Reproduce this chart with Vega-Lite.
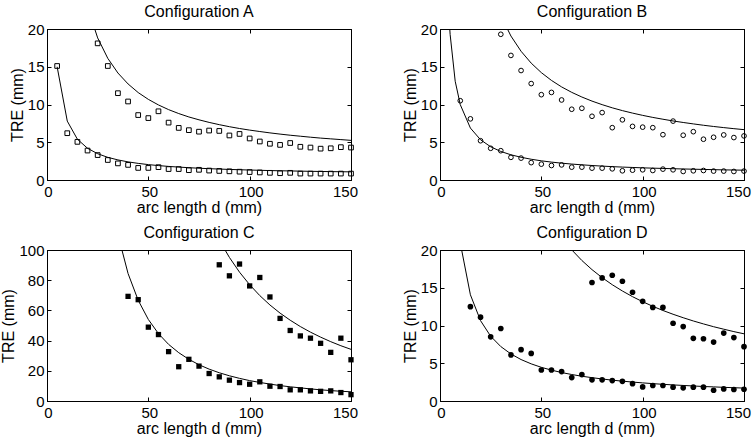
{
  "$schema": "https://vega.github.io/schema/vega-lite/v6.json",
  "background": "white",
  "padding": {"left": 0, "top": 3, "right": 0, "bottom": 0},
  "columns": 2,
  "bounds": "flush",
  "spacing": {"row": 70, "column": 89},
  "datasets": {
    "pts": [
      {"panel":"A","series":"lo","d":5,"tre":15.1},{"panel":"A","series":"lo","d":10,"tre":6.2},{"panel":"A","series":"lo","d":15,"tre":5.05},{"panel":"A","series":"lo","d":20,"tre":3.9},{"panel":"A","series":"lo","d":25,"tre":3.3},{"panel":"A","series":"lo","d":30,"tre":2.65},{"panel":"A","series":"lo","d":35,"tre":2.2},{"panel":"A","series":"lo","d":40,"tre":2.0},{"panel":"A","series":"lo","d":45,"tre":1.6},{"panel":"A","series":"lo","d":50,"tre":1.6},{"panel":"A","series":"lo","d":55,"tre":1.7},{"panel":"A","series":"lo","d":60,"tre":1.45},{"panel":"A","series":"lo","d":65,"tre":1.45},{"panel":"A","series":"lo","d":70,"tre":1.3},{"panel":"A","series":"lo","d":75,"tre":1.35},{"panel":"A","series":"lo","d":80,"tre":1.25},{"panel":"A","series":"lo","d":85,"tre":1.2},{"panel":"A","series":"lo","d":90,"tre":1.15},{"panel":"A","series":"lo","d":95,"tre":1.1},{"panel":"A","series":"lo","d":100,"tre":1.05},{"panel":"A","series":"lo","d":105,"tre":1.0},{"panel":"A","series":"lo","d":110,"tre":0.95},{"panel":"A","series":"lo","d":115,"tre":0.9},{"panel":"A","series":"lo","d":120,"tre":0.95},{"panel":"A","series":"lo","d":125,"tre":0.85},{"panel":"A","series":"lo","d":130,"tre":0.85},{"panel":"A","series":"lo","d":135,"tre":0.85},{"panel":"A","series":"lo","d":140,"tre":0.85},{"panel":"A","series":"lo","d":145,"tre":0.85},{"panel":"A","series":"lo","d":150,"tre":0.85},
      {"panel":"A","series":"hi","d":25,"tre":18.1},{"panel":"A","series":"hi","d":30,"tre":15.1},{"panel":"A","series":"hi","d":35,"tre":11.5},{"panel":"A","series":"hi","d":40,"tre":10.4},{"panel":"A","series":"hi","d":45,"tre":8.6},{"panel":"A","series":"hi","d":50,"tre":8.2},{"panel":"A","series":"hi","d":55,"tre":9.1},{"panel":"A","series":"hi","d":60,"tre":7.6},{"panel":"A","series":"hi","d":65,"tre":6.9},{"panel":"A","series":"hi","d":70,"tre":6.6},{"panel":"A","series":"hi","d":75,"tre":6.4},{"panel":"A","series":"hi","d":80,"tre":6.55},{"panel":"A","series":"hi","d":85,"tre":6.5},{"panel":"A","series":"hi","d":90,"tre":5.9},{"panel":"A","series":"hi","d":95,"tre":6.1},{"panel":"A","series":"hi","d":100,"tre":5.5},{"panel":"A","series":"hi","d":105,"tre":5.1},{"panel":"A","series":"hi","d":110,"tre":4.8},{"panel":"A","series":"hi","d":115,"tre":4.65},{"panel":"A","series":"hi","d":120,"tre":4.9},{"panel":"A","series":"hi","d":125,"tre":4.4},{"panel":"A","series":"hi","d":130,"tre":4.3},{"panel":"A","series":"hi","d":135,"tre":4.15},{"panel":"A","series":"hi","d":140,"tre":4.2},{"panel":"A","series":"hi","d":145,"tre":4.35},{"panel":"A","series":"hi","d":150,"tre":4.3},
      {"panel":"B","series":"lo","d":10,"tre":10.5},{"panel":"B","series":"lo","d":15,"tre":8.1},{"panel":"B","series":"lo","d":20,"tre":5.2},{"panel":"B","series":"lo","d":25,"tre":4.2},{"panel":"B","series":"lo","d":30,"tre":3.88},{"panel":"B","series":"lo","d":35,"tre":3.0},{"panel":"B","series":"lo","d":40,"tre":2.9},{"panel":"B","series":"lo","d":45,"tre":2.3},{"panel":"B","series":"lo","d":50,"tre":2.1},{"panel":"B","series":"lo","d":55,"tre":1.92},{"panel":"B","series":"lo","d":60,"tre":2.0},{"panel":"B","series":"lo","d":65,"tre":1.7},{"panel":"B","series":"lo","d":70,"tre":1.7},{"panel":"B","series":"lo","d":75,"tre":1.57},{"panel":"B","series":"lo","d":80,"tre":1.57},{"panel":"B","series":"lo","d":85,"tre":1.48},{"panel":"B","series":"lo","d":90,"tre":1.22},{"panel":"B","series":"lo","d":95,"tre":1.3},{"panel":"B","series":"lo","d":100,"tre":1.35},{"panel":"B","series":"lo","d":105,"tre":1.26},{"panel":"B","series":"lo","d":110,"tre":1.44},{"panel":"B","series":"lo","d":115,"tre":1.35},{"panel":"B","series":"lo","d":120,"tre":1.13},{"panel":"B","series":"lo","d":125,"tre":1.22},{"panel":"B","series":"lo","d":130,"tre":1.26},{"panel":"B","series":"lo","d":135,"tre":1.18},{"panel":"B","series":"lo","d":140,"tre":1.18},{"panel":"B","series":"lo","d":145,"tre":1.13},{"panel":"B","series":"lo","d":150,"tre":1.18},
      {"panel":"B","series":"hi","d":30,"tre":19.3},{"panel":"B","series":"hi","d":35,"tre":16.5},{"panel":"B","series":"hi","d":40,"tre":14.5},{"panel":"B","series":"hi","d":45,"tre":12.77},{"panel":"B","series":"hi","d":50,"tre":11.3},{"panel":"B","series":"hi","d":55,"tre":11.6},{"panel":"B","series":"hi","d":60,"tre":10.6},{"panel":"B","series":"hi","d":65,"tre":9.37},{"panel":"B","series":"hi","d":70,"tre":9.5},{"panel":"B","series":"hi","d":75,"tre":8.44},{"panel":"B","series":"hi","d":80,"tre":8.93},{"panel":"B","series":"hi","d":85,"tre":6.93},{"panel":"B","series":"hi","d":90,"tre":7.97},{"panel":"B","series":"hi","d":95,"tre":7.1},{"panel":"B","series":"hi","d":100,"tre":7.0},{"panel":"B","series":"hi","d":105,"tre":6.93},{"panel":"B","series":"hi","d":110,"tre":6.0},{"panel":"B","series":"hi","d":115,"tre":7.8},{"panel":"B","series":"hi","d":120,"tre":5.93},{"panel":"B","series":"hi","d":125,"tre":6.4},{"panel":"B","series":"hi","d":130,"tre":5.4},{"panel":"B","series":"hi","d":135,"tre":5.66},{"panel":"B","series":"hi","d":140,"tre":5.97},{"panel":"B","series":"hi","d":145,"tre":5.62},{"panel":"B","series":"hi","d":150,"tre":5.84},
      {"panel":"C","series":"lo","d":40,"tre":69.3},{"panel":"C","series":"lo","d":45,"tre":67.1},{"panel":"C","series":"lo","d":50,"tre":48.9},{"panel":"C","series":"lo","d":55,"tre":44},{"panel":"C","series":"lo","d":60,"tre":32.7},{"panel":"C","series":"lo","d":65,"tre":22.7},{"panel":"C","series":"lo","d":70,"tre":27.6},{"panel":"C","series":"lo","d":75,"tre":23.1},{"panel":"C","series":"lo","d":80,"tre":18.2},{"panel":"C","series":"lo","d":85,"tre":16},{"panel":"C","series":"lo","d":90,"tre":13.8},{"panel":"C","series":"lo","d":95,"tre":12.2},{"panel":"C","series":"lo","d":100,"tre":11.1},{"panel":"C","series":"lo","d":105,"tre":12.7},{"panel":"C","series":"lo","d":110,"tre":9.8},{"panel":"C","series":"lo","d":115,"tre":9.6},{"panel":"C","series":"lo","d":120,"tre":7.4},{"panel":"C","series":"lo","d":125,"tre":7.4},{"panel":"C","series":"lo","d":130,"tre":6.7},{"panel":"C","series":"lo","d":135,"tre":6.4},{"panel":"C","series":"lo","d":140,"tre":6.7},{"panel":"C","series":"lo","d":145,"tre":5.6},{"panel":"C","series":"lo","d":150,"tre":4.2},
      {"panel":"C","series":"hi","d":85,"tre":90.2},{"panel":"C","series":"hi","d":90,"tre":82.9},{"panel":"C","series":"hi","d":95,"tre":90.7},{"panel":"C","series":"hi","d":100,"tre":76.2},{"panel":"C","series":"hi","d":105,"tre":81.8},{"panel":"C","series":"hi","d":110,"tre":68.9},{"panel":"C","series":"hi","d":115,"tre":54.7},{"panel":"C","series":"hi","d":120,"tre":46.7},{"panel":"C","series":"hi","d":125,"tre":43.1},{"panel":"C","series":"hi","d":130,"tre":41.6},{"panel":"C","series":"hi","d":135,"tre":38.2},{"panel":"C","series":"hi","d":140,"tre":32.2},{"panel":"C","series":"hi","d":145,"tre":41.6},{"panel":"C","series":"hi","d":150,"tre":27.3},
      {"panel":"D","series":"lo","d":15,"tre":12.5},{"panel":"D","series":"lo","d":20,"tre":11.1},{"panel":"D","series":"lo","d":25,"tre":8.5},{"panel":"D","series":"lo","d":30,"tre":9.6},{"panel":"D","series":"lo","d":35,"tre":6.1},{"panel":"D","series":"lo","d":40,"tre":6.8},{"panel":"D","series":"lo","d":45,"tre":6.3},{"panel":"D","series":"lo","d":50,"tre":4.1},{"panel":"D","series":"lo","d":55,"tre":4.1},{"panel":"D","series":"lo","d":60,"tre":3.9},{"panel":"D","series":"lo","d":65,"tre":3.1},{"panel":"D","series":"lo","d":70,"tre":3.5},{"panel":"D","series":"lo","d":75,"tre":2.8},{"panel":"D","series":"lo","d":80,"tre":2.8},{"panel":"D","series":"lo","d":85,"tre":2.7},{"panel":"D","series":"lo","d":90,"tre":2.6},{"panel":"D","series":"lo","d":95,"tre":2.3},{"panel":"D","series":"lo","d":100,"tre":1.87},{"panel":"D","series":"lo","d":105,"tre":2.05},{"panel":"D","series":"lo","d":110,"tre":2.05},{"panel":"D","series":"lo","d":115,"tre":1.83},{"panel":"D","series":"lo","d":120,"tre":1.74},{"panel":"D","series":"lo","d":125,"tre":1.83},{"panel":"D","series":"lo","d":130,"tre":1.83},{"panel":"D","series":"lo","d":135,"tre":1.43},{"panel":"D","series":"lo","d":140,"tre":1.6},{"panel":"D","series":"lo","d":145,"tre":1.52},{"panel":"D","series":"lo","d":150,"tre":1.56},
      {"panel":"D","series":"hi","d":75,"tre":15.7},{"panel":"D","series":"hi","d":80,"tre":16.3},{"panel":"D","series":"hi","d":85,"tre":16.65},{"panel":"D","series":"hi","d":90,"tre":15.86},{"panel":"D","series":"hi","d":95,"tre":14.4},{"panel":"D","series":"hi","d":100,"tre":13.2},{"panel":"D","series":"hi","d":105,"tre":12.4},{"panel":"D","series":"hi","d":110,"tre":12.4},{"panel":"D","series":"hi","d":115,"tre":10.3},{"panel":"D","series":"hi","d":120,"tre":9.86},{"panel":"D","series":"hi","d":125,"tre":8.3},{"panel":"D","series":"hi","d":130,"tre":8.25},{"panel":"D","series":"hi","d":135,"tre":7.8},{"panel":"D","series":"hi","d":140,"tre":9.0},{"panel":"D","series":"hi","d":145,"tre":8.4},{"panel":"D","series":"hi","d":150,"tre":7.2}
    ],
    "fit": [
      {"panel":"A","series":"lo","d":5,"tre":15.0},{"panel":"A","series":"lo","d":10,"tre":7.8},{"panel":"A","series":"lo","d":15,"tre":5.4},{"panel":"A","series":"lo","d":20,"tre":4.2},{"panel":"A","series":"lo","d":25,"tre":3.48},{"panel":"A","series":"lo","d":30,"tre":3.0},{"panel":"A","series":"lo","d":35,"tre":2.66},{"panel":"A","series":"lo","d":40,"tre":2.4},{"panel":"A","series":"lo","d":45,"tre":2.2},{"panel":"A","series":"lo","d":50,"tre":2.04},{"panel":"A","series":"lo","d":55,"tre":1.91},{"panel":"A","series":"lo","d":60,"tre":1.8},{"panel":"A","series":"lo","d":65,"tre":1.71},{"panel":"A","series":"lo","d":70,"tre":1.63},{"panel":"A","series":"lo","d":75,"tre":1.56},{"panel":"A","series":"lo","d":80,"tre":1.5},{"panel":"A","series":"lo","d":85,"tre":1.45},{"panel":"A","series":"lo","d":90,"tre":1.4},{"panel":"A","series":"lo","d":95,"tre":1.36},{"panel":"A","series":"lo","d":100,"tre":1.32},{"panel":"A","series":"lo","d":110,"tre":1.25},{"panel":"A","series":"lo","d":120,"tre":1.2},{"panel":"A","series":"lo","d":130,"tre":1.15},{"panel":"A","series":"lo","d":140,"tre":1.11},{"panel":"A","series":"lo","d":150,"tre":1.08},
      {"panel":"A","series":"hi","d":20,"tre":22.9},{"panel":"A","series":"hi","d":25,"tre":18.82},{"panel":"A","series":"hi","d":30,"tre":16.11},{"panel":"A","series":"hi","d":35,"tre":14.17},{"panel":"A","series":"hi","d":40,"tre":12.72},{"panel":"A","series":"hi","d":45,"tre":11.58},{"panel":"A","series":"hi","d":50,"tre":10.68},{"panel":"A","series":"hi","d":55,"tre":9.94},{"panel":"A","series":"hi","d":60,"tre":9.32},{"panel":"A","series":"hi","d":65,"tre":8.8},{"panel":"A","series":"hi","d":70,"tre":8.35},{"panel":"A","series":"hi","d":75,"tre":7.97},{"panel":"A","series":"hi","d":80,"tre":7.63},{"panel":"A","series":"hi","d":85,"tre":7.33},{"panel":"A","series":"hi","d":90,"tre":7.06},{"panel":"A","series":"hi","d":95,"tre":6.82},{"panel":"A","series":"hi","d":100,"tre":6.61},{"panel":"A","series":"hi","d":105,"tre":6.42},{"panel":"A","series":"hi","d":110,"tre":6.24},{"panel":"A","series":"hi","d":115,"tre":6.08},{"panel":"A","series":"hi","d":120,"tre":5.93},{"panel":"A","series":"hi","d":125,"tre":5.8},{"panel":"A","series":"hi","d":130,"tre":5.67},{"panel":"A","series":"hi","d":135,"tre":5.55},{"panel":"A","series":"hi","d":140,"tre":5.45},{"panel":"A","series":"hi","d":145,"tre":5.35},{"panel":"A","series":"hi","d":150,"tre":5.25},
      {"panel":"B","series":"lo","d":4.5,"tre":21.35},{"panel":"B","series":"lo","d":5,"tre":19.28},{"panel":"B","series":"lo","d":7.5,"tre":13.08},{"panel":"B","series":"lo","d":10,"tre":9.98},{"panel":"B","series":"lo","d":15,"tre":6.88},{"panel":"B","series":"lo","d":20,"tre":5.33},{"panel":"B","series":"lo","d":25,"tre":4.4},{"panel":"B","series":"lo","d":30,"tre":3.78},{"panel":"B","series":"lo","d":35,"tre":3.34},{"panel":"B","series":"lo","d":40,"tre":3.01},{"panel":"B","series":"lo","d":45,"tre":2.75},{"panel":"B","series":"lo","d":50,"tre":2.54},{"panel":"B","series":"lo","d":55,"tre":2.37},{"panel":"B","series":"lo","d":60,"tre":2.23},{"panel":"B","series":"lo","d":65,"tre":2.11},{"panel":"B","series":"lo","d":70,"tre":2.01},{"panel":"B","series":"lo","d":75,"tre":1.92},{"panel":"B","series":"lo","d":80,"tre":1.84},{"panel":"B","series":"lo","d":85,"tre":1.77},{"panel":"B","series":"lo","d":90,"tre":1.71},{"panel":"B","series":"lo","d":95,"tre":1.66},{"panel":"B","series":"lo","d":100,"tre":1.61},{"panel":"B","series":"lo","d":110,"tre":1.53},{"panel":"B","series":"lo","d":120,"tre":1.46},{"panel":"B","series":"lo","d":130,"tre":1.4},{"panel":"B","series":"lo","d":140,"tre":1.34},{"panel":"B","series":"lo","d":150,"tre":1.3},
      {"panel":"B","series":"hi","d":30,"tre":21.77},{"panel":"B","series":"hi","d":35,"tre":19.07},{"panel":"B","series":"hi","d":40,"tre":17.05},{"panel":"B","series":"hi","d":45,"tre":15.48},{"panel":"B","series":"hi","d":50,"tre":14.22},{"panel":"B","series":"hi","d":55,"tre":13.19},{"panel":"B","series":"hi","d":60,"tre":12.33},{"panel":"B","series":"hi","d":65,"tre":11.61},{"panel":"B","series":"hi","d":70,"tre":10.99},{"panel":"B","series":"hi","d":75,"tre":10.45},{"panel":"B","series":"hi","d":80,"tre":9.98},{"panel":"B","series":"hi","d":85,"tre":9.56},{"panel":"B","series":"hi","d":90,"tre":9.19},{"panel":"B","series":"hi","d":95,"tre":8.86},{"panel":"B","series":"hi","d":100,"tre":8.56},{"panel":"B","series":"hi","d":105,"tre":8.29},{"panel":"B","series":"hi","d":110,"tre":8.05},{"panel":"B","series":"hi","d":115,"tre":7.82},{"panel":"B","series":"hi","d":120,"tre":7.62},{"panel":"B","series":"hi","d":125,"tre":7.43},{"panel":"B","series":"hi","d":130,"tre":7.25},{"panel":"B","series":"hi","d":135,"tre":7.09},{"panel":"B","series":"hi","d":140,"tre":6.94},{"panel":"B","series":"hi","d":145,"tre":6.8},{"panel":"B","series":"hi","d":150,"tre":6.67},
      {"panel":"C","series":"lo","d":35,"tre":110.2},{"panel":"C","series":"lo","d":40,"tre":84.4},{"panel":"C","series":"lo","d":45,"tre":66.7},{"panel":"C","series":"lo","d":50,"tre":54},{"panel":"C","series":"lo","d":55,"tre":44.6},{"panel":"C","series":"lo","d":60,"tre":37.5},{"panel":"C","series":"lo","d":65,"tre":32},{"panel":"C","series":"lo","d":70,"tre":27.6},{"panel":"C","series":"lo","d":75,"tre":24},{"panel":"C","series":"lo","d":80,"tre":21.1},{"panel":"C","series":"lo","d":85,"tre":18.7},{"panel":"C","series":"lo","d":90,"tre":16.7},{"panel":"C","series":"lo","d":95,"tre":15.0},{"panel":"C","series":"lo","d":100,"tre":13.5},{"panel":"C","series":"lo","d":105,"tre":12.3},{"panel":"C","series":"lo","d":110,"tre":11.2},{"panel":"C","series":"lo","d":115,"tre":10.2},{"panel":"C","series":"lo","d":120,"tre":9.4},{"panel":"C","series":"lo","d":125,"tre":8.7},{"panel":"C","series":"lo","d":130,"tre":8.0},{"panel":"C","series":"lo","d":135,"tre":7.4},{"panel":"C","series":"lo","d":140,"tre":6.9},{"panel":"C","series":"lo","d":145,"tre":6.45},{"panel":"C","series":"lo","d":150,"tre":6.1},
      {"panel":"C","series":"hi","d":85,"tre":106.6},{"panel":"C","series":"hi","d":90,"tre":95.1},{"panel":"C","series":"hi","d":95,"tre":85.3},{"panel":"C","series":"hi","d":100,"tre":77.0},{"panel":"C","series":"hi","d":105,"tre":69.8},{"panel":"C","series":"hi","d":110,"tre":63.6},{"panel":"C","series":"hi","d":115,"tre":58.2},{"panel":"C","series":"hi","d":120,"tre":53.5},{"panel":"C","series":"hi","d":125,"tre":49.3},{"panel":"C","series":"hi","d":130,"tre":45.6},{"panel":"C","series":"hi","d":135,"tre":42.3},{"panel":"C","series":"hi","d":140,"tre":39.3},{"panel":"C","series":"hi","d":145,"tre":36.6},{"panel":"C","series":"hi","d":150,"tre":34.2},
      {"panel":"D","series":"lo","d":10,"tre":20.94},{"panel":"D","series":"lo","d":15,"tre":14.07},{"panel":"D","series":"lo","d":20,"tre":10.64},{"panel":"D","series":"lo","d":25,"tre":8.58},{"panel":"D","series":"lo","d":30,"tre":7.21},{"panel":"D","series":"lo","d":35,"tre":6.23},{"panel":"D","series":"lo","d":40,"tre":5.49},{"panel":"D","series":"lo","d":45,"tre":4.92},{"panel":"D","series":"lo","d":50,"tre":4.46},{"panel":"D","series":"lo","d":55,"tre":4.09},{"panel":"D","series":"lo","d":60,"tre":3.77},{"panel":"D","series":"lo","d":65,"tre":3.51},{"panel":"D","series":"lo","d":70,"tre":3.28},{"panel":"D","series":"lo","d":75,"tre":3.09},{"panel":"D","series":"lo","d":80,"tre":2.92},{"panel":"D","series":"lo","d":85,"tre":2.76},{"panel":"D","series":"lo","d":90,"tre":2.63},{"panel":"D","series":"lo","d":95,"tre":2.51},{"panel":"D","series":"lo","d":100,"tre":2.4},{"panel":"D","series":"lo","d":105,"tre":2.3},{"panel":"D","series":"lo","d":110,"tre":2.21},{"panel":"D","series":"lo","d":115,"tre":2.13},{"panel":"D","series":"lo","d":120,"tre":2.06},{"panel":"D","series":"lo","d":125,"tre":1.99},{"panel":"D","series":"lo","d":130,"tre":1.92},{"panel":"D","series":"lo","d":135,"tre":1.87},{"panel":"D","series":"lo","d":140,"tre":1.81},{"panel":"D","series":"lo","d":145,"tre":1.76},{"panel":"D","series":"lo","d":150,"tre":1.71},
      {"panel":"D","series":"hi","d":60,"tre":21.65},{"panel":"D","series":"hi","d":65,"tre":20.02},{"panel":"D","series":"hi","d":70,"tre":18.61},{"panel":"D","series":"hi","d":75,"tre":17.4},{"panel":"D","series":"hi","d":80,"tre":16.34},{"panel":"D","series":"hi","d":85,"tre":15.4},{"panel":"D","series":"hi","d":90,"tre":14.57},{"panel":"D","series":"hi","d":95,"tre":13.82},{"panel":"D","series":"hi","d":100,"tre":13.15},{"panel":"D","series":"hi","d":105,"tre":12.54},{"panel":"D","series":"hi","d":110,"tre":11.99},{"panel":"D","series":"hi","d":115,"tre":11.49},{"panel":"D","series":"hi","d":120,"tre":11.03},{"panel":"D","series":"hi","d":125,"tre":10.6},{"panel":"D","series":"hi","d":130,"tre":10.21},{"panel":"D","series":"hi","d":135,"tre":9.84},{"panel":"D","series":"hi","d":140,"tre":9.51},{"panel":"D","series":"hi","d":145,"tre":9.19},{"panel":"D","series":"hi","d":150,"tre":8.9}
    ]
  },
  "concat": [
    {
      "title": "Configuration A",
      "width": 304, "height": 151,
      "layer": [
        {"data": {"name": "fit"}, "transform": [{"filter": "datum.panel === 'A'"}],
         "mark": {"type": "line", "clip": true, "color": "black", "strokeWidth": 1},
         "encoding": {
           "x": {"field": "d", "type": "quantitative", "scale": {"domain": [0, 150], "nice": false}, "axis": {"title": "arc length d (mm)", "values": [0, 50, 100, 150]}},
           "y": {"field": "tre", "type": "quantitative", "scale": {"domain": [0, 20], "nice": false}, "axis": {"title": "TRE (mm)", "values": [0, 5, 10, 15, 20]}},
           "detail": {"field": "series"}}},
        {"data": {"name": "pts"}, "transform": [{"filter": "datum.panel === 'A'"}],
         "mark": {"type": "point", "shape": "square", "filled": false, "color": "black", "size": 22, "strokeWidth": 1, "opacity": 1},
         "encoding": {
           "x": {"field": "d", "type": "quantitative", "axis": {"orient": "top", "labels": false, "title": null, "values": [0, 50, 100, 150]}},
           "y": {"field": "tre", "type": "quantitative", "axis": {"orient": "right", "labels": false, "title": null, "values": [0, 5, 10, 15, 20]}}}}
      ],
      "resolve": {"axis": {"x": "independent", "y": "independent"}}
    },
    {
      "title": "Configuration B",
      "width": 304, "height": 151,
      "layer": [
        {"data": {"name": "fit"}, "transform": [{"filter": "datum.panel === 'B'"}],
         "mark": {"type": "line", "clip": true, "color": "black", "strokeWidth": 1},
         "encoding": {
           "x": {"field": "d", "type": "quantitative", "scale": {"domain": [0, 150], "nice": false}, "axis": {"title": "arc length d (mm)", "values": [0, 50, 100, 150]}},
           "y": {"field": "tre", "type": "quantitative", "scale": {"domain": [0, 20], "nice": false}, "axis": {"title": "TRE (mm)", "values": [0, 5, 10, 15, 20]}},
           "detail": {"field": "series"}}},
        {"data": {"name": "pts"}, "transform": [{"filter": "datum.panel === 'B'"}],
         "mark": {"type": "point", "shape": "circle", "filled": false, "color": "black", "size": 22, "strokeWidth": 1, "opacity": 1},
         "encoding": {
           "x": {"field": "d", "type": "quantitative", "axis": {"orient": "top", "labels": false, "title": null, "values": [0, 50, 100, 150]}},
           "y": {"field": "tre", "type": "quantitative", "axis": {"orient": "right", "labels": false, "title": null, "values": [0, 5, 10, 15, 20]}}}}
      ],
      "resolve": {"axis": {"x": "independent", "y": "independent"}}
    },
    {
      "title": "Configuration C",
      "width": 304, "height": 151,
      "layer": [
        {"data": {"name": "fit"}, "transform": [{"filter": "datum.panel === 'C'"}],
         "mark": {"type": "line", "clip": true, "color": "black", "strokeWidth": 1},
         "encoding": {
           "x": {"field": "d", "type": "quantitative", "scale": {"domain": [0, 150], "nice": false}, "axis": {"title": "arc length d (mm)", "values": [0, 50, 100, 150]}},
           "y": {"field": "tre", "type": "quantitative", "scale": {"domain": [0, 100], "nice": false}, "axis": {"title": "TRE (mm)", "values": [0, 20, 40, 60, 80, 100]}},
           "detail": {"field": "series"}}},
        {"data": {"name": "pts"}, "transform": [{"filter": "datum.panel === 'C'"}],
         "mark": {"type": "point", "shape": "square", "filled": true, "color": "black", "size": 28, "opacity": 1},
         "encoding": {
           "x": {"field": "d", "type": "quantitative", "axis": {"orient": "top", "labels": false, "title": null, "values": [0, 50, 100, 150]}},
           "y": {"field": "tre", "type": "quantitative", "axis": {"orient": "right", "labels": false, "title": null, "values": [0, 20, 40, 60, 80, 100]}}}}
      ],
      "resolve": {"axis": {"x": "independent", "y": "independent"}}
    },
    {
      "title": "Configuration D",
      "width": 304, "height": 151,
      "layer": [
        {"data": {"name": "fit"}, "transform": [{"filter": "datum.panel === 'D'"}],
         "mark": {"type": "line", "clip": true, "color": "black", "strokeWidth": 1},
         "encoding": {
           "x": {"field": "d", "type": "quantitative", "scale": {"domain": [0, 150], "nice": false}, "axis": {"title": "arc length d (mm)", "values": [0, 50, 100, 150]}},
           "y": {"field": "tre", "type": "quantitative", "scale": {"domain": [0, 20], "nice": false}, "axis": {"title": "TRE (mm)", "values": [0, 5, 10, 15, 20]}},
           "detail": {"field": "series"}}},
        {"data": {"name": "pts"}, "transform": [{"filter": "datum.panel === 'D'"}],
         "mark": {"type": "point", "shape": "circle", "filled": true, "color": "black", "size": 32, "opacity": 1},
         "encoding": {
           "x": {"field": "d", "type": "quantitative", "axis": {"orient": "top", "labels": false, "title": null, "values": [0, 50, 100, 150]}},
           "y": {"field": "tre", "type": "quantitative", "axis": {"orient": "right", "labels": false, "title": null, "values": [0, 5, 10, 15, 20]}}}}
      ],
      "resolve": {"axis": {"x": "independent", "y": "independent"}}
    }
  ],
  "config": {
    "font": "Liberation Sans",
    "view": {"stroke": "black", "strokeWidth": 1},
    "axis": {"grid": false, "domainColor": "black", "tickColor": "black", "labelColor": "black", "titleColor": "black", "labelFontSize": 15, "titleFontSize": 16, "titleFontWeight": "normal", "tickSize": -4, "domainWidth": 1, "tickWidth": 1},
    "axisX": {"labelPadding": 8, "titlePadding": 0, "labelFlush": false, "labelOffset": {"condition": {"test": "datum.value === 150", "value": -6}, "value": 1}},
    "axisY": {"labelPadding": 7, "titlePadding": 2},
    "title": {"fontSize": 16, "fontWeight": "normal", "color": "black", "offset": 2}
  }
}
